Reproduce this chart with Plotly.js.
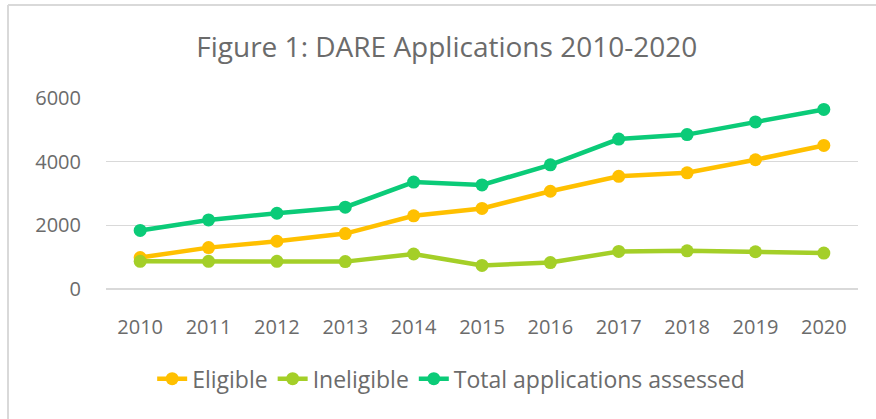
<!DOCTYPE html>
<html>
<head>
<meta charset="utf-8">
<script src="https://cdn.plot.ly/plotly-3.0.1.min.js"></script>
<style>
html,body{margin:0;padding:0;background:#fff;}
#chart{width:876px;height:419px;}
</style>
</head>
<body>
<div id="chart"></div>
<script>
const years = ["2010","2011","2012","2013","2014","2015","2016","2017","2018","2019","2020"];
const eligible = [990, 1300, 1500, 1740, 2300, 2530, 3070, 3540, 3650, 4060, 4510];
const ineligible = [870, 870, 870, 860, 1100, 740, 830, 1180, 1200, 1170, 1130];
const total = [1840, 2170, 2380, 2570, 3360, 3270, 3900, 4710, 4850, 5250, 5640];
const seriesNames = ["Eligible", "Ineligible", "Total applications assessed"];
const colors = ["#FFC000", "#A4CF28", "#0BCB78"];

const FONT = "Open Sans, sans-serif";
const GREY = "#6b6b6b";

const data = [eligible, ineligible, total].map((vals, i) => ({
  type: "scatter",
  mode: "lines+markers",
  x: years,
  y: vals,
  name: seriesNames[i],
  line: {color: colors[i], width: 4.5},
  marker: {color: colors[i], size: 13},
  cliponaxis: false
}));

const layout = {
  width: 876,
  height: 419,
  paper_bgcolor: "#ffffff",
  plot_bgcolor: "#ffffff",
  margin: {l: 106, r: 18, t: 98, b: 130},
  title: {
    text: "Figure 1: DARE Applications 2010-2020",
    font: {family: FONT, size: 28, color: GREY},
    x: 0.51, xanchor: "center",
    y: 0.888, yanchor: "middle"
  },
  xaxis: {
    type: "category",
    range: [-0.5, 10.5],
    showgrid: false,
    showline: false,
    zeroline: false,
    ticks: "",
    ticklabelstandoff: 24,
    tickfont: {family: FONT, size: 20, color: GREY},
    fixedrange: true
  },
  yaxis: {
    range: [0, 6000],
    tickvals: [0, 2000, 4000, 6000],
    ticktext: ["0", "2000", "4000", "6000"],
    showgrid: true,
    gridcolor: "#d9d9d9",
    gridwidth: 1.5,
    zeroline: true,
    zerolinecolor: "#d9d9d9",
    zerolinewidth: 1.5,
    showline: false,
    ticks: "",
    ticklabelstandoff: 24,
    tickfont: {family: FONT, size: 20, color: GREY},
    fixedrange: true
  },
  legend: {
    orientation: "h",
    x: 0.459, xanchor: "center",
    y: -0.47, yanchor: "middle",
    font: {family: FONT, size: 23, color: GREY},
    itemwidth: 30,
    tracegroupgap: 0
  },
  shapes: [
    {type: "line", xref: "paper", yref: "paper", x0: -0.1303, x1: 1.05, y0: 1.487, y1: 1.487, line: {color: "#d9d9d9", width: 2}},
    {type: "line", xref: "paper", yref: "paper", x0: -0.1303, x1: -0.1303, y0: 1.487, y1: -0.7, line: {color: "#d9d9d9", width: 2}}
  ],
  showlegend: true
};

Plotly.newPlot("chart", data, layout, {displayModeBar: false, staticPlot: true});
</script>
</body>
</html>
